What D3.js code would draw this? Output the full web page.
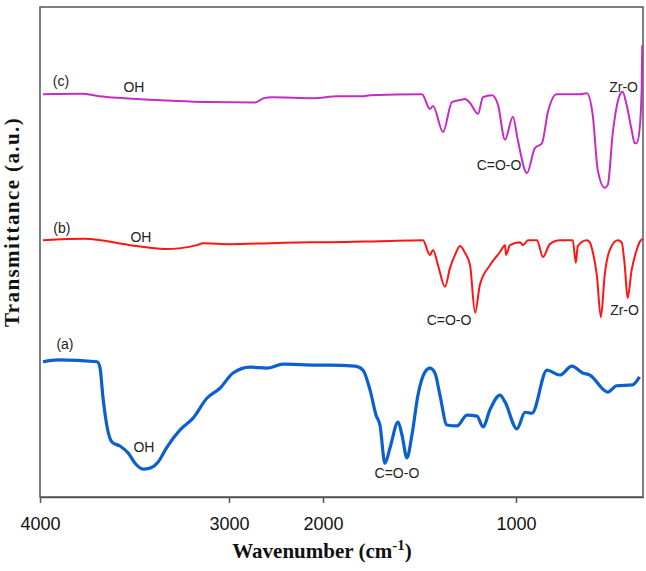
<!DOCTYPE html>
<html>
<head>
  <title>FTIR spectra</title>
  <script src="https://d3js.org/d3.v7.min.js"></script>
  <style>
    body { margin: 0; background: #fff; }
  </style>
</head>
<body>
  <div id="chart"></div>

  <script>
    // wavenumber (cm-1) and transmittance (a.u.)
    var seriesC = [[3984,82.2],[3778,82.3],[3688,81.8],[3556,81.4],[3275,80.8],[3122,80.6],[2723,80.5],[2628,81.4],[2543,81.6],[2106,81.4],[1922,81.8],[1793,81.8],[1756,82.0],[1487,82.2],[1446,79.2],[1430,79.8],[1378,74.5],[1332,80.6],[1290,81.0],[1264,81.2],[1238,80.4],[1197,78.2],[1171,81.6],[1124,82.0],[1093,80.0],[1057,72.9],[1016,77.6],[990,72.7],[943,66.1],[902,71.2],[865,72.2],[834,78.6],[788,82.2],[669,82.2],[632,82.4],[601,77.9],[575,66.7],[539,63.1],[523,63.7],[497,74.3],[461,82.0],[446,82.7],[425,80.0],[399,74.9],[383,72.2],[373,72.2],[358,74.9],[347,83.1],[344,92.2]];

    var seriesB = [[3984,52.4],[3762,52.7],[3524,51.4],[3339,50.6],[3169,51.4],[3138,51.8],[2989,51.6],[2564,51.8],[2138,52.0],[1964,52.0],[1705,52.2],[1482,52.4],[1446,49.4],[1430,50.4],[1404,47.3],[1368,42.9],[1342,46.7],[1316,49.4],[1290,51.2],[1264,49.8],[1238,47.3],[1212,37.6],[1187,43.3],[1135,47.3],[1083,50.0],[1057,51.4],[1052,49.4],[1031,51.4],[979,52.0],[964,51.4],[938,52.4],[891,52.4],[860,49.0],[824,51.6],[772,52.4],[705,52.4],[689,47.8],[679,51.2],[632,52.4],[617,52.0],[601,50.0],[580,45.3],[559,36.7],[539,45.3],[513,50.4],[471,52.4],[451,52.0],[435,47.3],[420,40.6],[399,46.3],[373,50.4],[358,52.0],[342,52.7]];

    var seriesA = [[3984,27.6],[3905,28.0],[3698,27.6],[3683,26.5],[3667,20.4],[3645,14.3],[3619,11.2],[3577,10.4],[3534,9.0],[3497,6.9],[3455,5.7],[3418,5.9],[3376,7.1],[3328,10.2],[3259,13.7],[3190,16.1],[3116,20.2],[3048,22.2],[2957,25.3],[2777,26.5],[2596,26.3],[2426,27.1],[2064,26.9],[1964,26.9],[1834,26.7],[1793,25.9],[1756,21.8],[1725,16.7],[1705,14.7],[1679,6.9],[1653,10.0],[1611,15.3],[1591,12.7],[1565,8.0],[1539,12.7],[1508,20.8],[1472,25.5],[1446,26.3],[1420,25.3],[1394,20.8],[1358,14.7],[1306,14.5],[1254,16.7],[1202,16.5],[1171,14.3],[1135,17.8],[1083,20.8],[1057,19.4],[995,13.9],[953,17.3],[917,17.1],[839,25.9],[772,24.9],[710,26.7],[653,25.3],[617,24.9],[523,21.4],[477,22.7],[394,22.9],[358,24.5]];

    var xTicks = [4000, 3000, 2000, 1000];

    // labels: text, wavenumber, transmittance
    var labels = [
      ["(c)", 3889, 83.9], ["OH", 3503, 82.7], ["C=O-O", 1088, 66.7], ["Zr-O", 441, 82.7],
      ["(b)", 3884, 53.9], ["OH", 3466, 52.0], ["C=O-O", 1347, 35.1], ["Zr-O", 436, 37.1],
      ["(a)", 3868, 30.2], ["OH", 3450, 9.2], ["C=O-O", 1617, 3.9]
    ];

    var width = 646, height = 571;
    var m = {left: 40, right: 643, top: 7, bottom: 497};

    var svg = d3.select("#chart")
      .append("svg")
      .attr("width", width)
      .attr("height", height);

    // the axis in the picture is not uniform: 3000-2000 is squeezed
    var x = d3.scaleLinear()
      .domain([4000, 3000, 2000, 1000, 340])
      .range([m.left, 229, 323, 516, m.right]);

    var y = d3.scaleLinear()
      .domain([0, 100])
      .range([m.bottom, m.top]);

    var line = d3.line()
      .x(function(d) { return x(d[0]); })
      .y(function(d) { return y(d[1]); })
      .curve(d3.curveMonotoneX);

    svg.append("rect")
      .attr("x", m.left)
      .attr("y", m.top)
      .attr("width", m.right - m.left)
      .attr("height", m.bottom - m.top)
      .attr("fill", "none")
      .attr("stroke", "#555")
      .attr("stroke-width", 1.5);

    svg.append("path")
      .attr("d", line(seriesA))
      .attr("fill", "none")
      .attr("stroke", "#0b5fce")
      .attr("stroke-width", 3.2)
      .attr("stroke-linejoin", "round");

    svg.append("path")
      .attr("d", line(seriesB))
      .attr("fill", "none")
      .attr("stroke", "#ff1414")
      .attr("stroke-width", 2)
      .attr("stroke-linejoin", "round");

    svg.append("path")
      .attr("d", line(seriesC))
      .attr("fill", "none")
      .attr("stroke", "#c72ac7")
      .attr("stroke-width", 2)
      .attr("stroke-linejoin", "round");

    var xAxis = svg.append("g")
      .attr("transform", "translate(0," + m.bottom + ")")
      .call(d3.axisBottom(x)
        .tickValues(xTicks)
        .tickFormat(d3.format("d"))
        .tickSize(6)
        .tickSizeOuter(0)
        .tickPadding(14));

    xAxis.select(".domain").attr("stroke", "#555").attr("stroke-width", 1.5);
    xAxis.selectAll(".tick line").attr("stroke", "#555").attr("stroke-width", 1.5);
    xAxis.selectAll(".tick text")
      .attr("font-family", "Liberation Sans, Arial, sans-serif")
      .attr("font-size", 18)
      .attr("fill", "#111");

    svg.selectAll(".note")
      .data(labels)
      .enter()
      .append("text")
      .attr("class", "note")
      .attr("x", function(d) { return x(d[1]); })
      .attr("y", function(d) { return y(d[2]); })
      .attr("text-anchor", "middle")
      .attr("font-family", "Liberation Sans, Arial, sans-serif")
      .attr("font-size", 14)
      .attr("fill", "#222")
      .text(function(d) { return d[0]; });

    var xt = svg.append("text")
      .attr("x", 322)
      .attr("y", 558)
      .attr("text-anchor", "middle")
      .attr("font-family", "Liberation Serif, Times New Roman, serif")
      .attr("font-weight", "bold")
      .attr("font-size", 21)
      .attr("fill", "#111");
    xt.append("tspan").text("Wavenumber (cm");
    xt.append("tspan").attr("dy", -8).attr("font-size", 15).text("-1");
    xt.append("tspan").attr("dy", 8).text(")");

    svg.append("text")
      .attr("transform", "translate(19,222) rotate(-90)")
      .attr("text-anchor", "middle")
      .attr("font-family", "Liberation Serif, Times New Roman, serif")
      .attr("font-weight", "bold")
      .attr("font-size", 21)
      .attr("letter-spacing", 1.4)
      .attr("fill", "#111")
      .text("Transmittance (a.u.)");
  </script>
</body>
</html>
